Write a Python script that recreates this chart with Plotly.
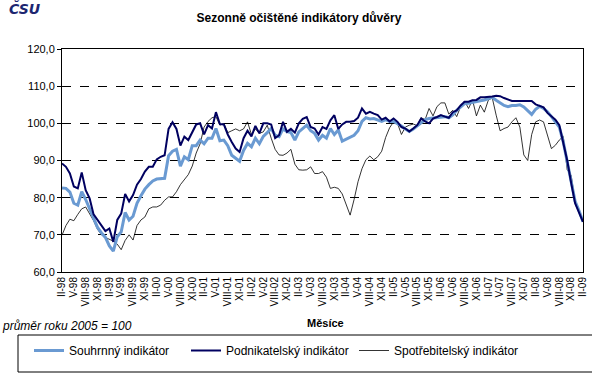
import plotly.graph_objects as go

# Months II-98 .. II-09 (133 monthly categories)
roman = ["I", "II", "III", "IV", "V", "VI", "VII", "VIII", "IX", "X", "XI", "XII"]
months = [f"{roman[(1 + i) % 12]}-{(98 + (1 + i) // 12) % 100:02d}" for i in range(133)]
x_idx = list(range(133))
tick_idx = list(range(0, 133, 3))
tick_text = [months[i] for i in tick_idx]

souhrnny = [
    82.6, 82.5, 81.5, 78.5, 78, 81.6, 79.5, 77, 74.5, 72, 70.5, 69.3, 67, 65.6, 69.5, 70.8, 76, 74, 75, 78.5,
    80.5, 82.3, 83.5, 84.5, 85, 85, 85.2, 91.3, 92.5, 93, 88.5, 91, 90.2, 94,
    94, 95.5, 94.5, 96, 96, 98.6, 95.3, 95.5, 94, 91.4, 90.5, 89.8, 92.7, 94.6, 93.7, 96,
    94.5, 96.5, 97.5, 98.6, 96.8, 96.4, 98.5, 97.8, 97.5, 95.5, 97.7, 98.5, 99.5, 98, 97.3,
    95.5, 96.8, 96, 98.6, 97, 98.2, 95.2, 95.8, 96.3, 96.8, 98, 100.5, 101.5, 101.2, 101.3, 101,
    100.5, 101, 100.5, 100.5, 100, 99.3, 98.5, 97.8, 98.5, 99.3, 100.3, 101, 101.3, 101.4, 101.7, 101.8, 101.8,
    101.5, 102.3, 103.5, 104.5, 105.3, 105.4, 105.7, 105.9, 106.1, 106.3, 106.7, 107, 106.2, 105.6, 104.8,
    104.5, 104.8, 104.8, 105, 104.4, 103.3, 102.4, 103.8, 104.6, 104, 103.1, 101.8, 100.5, 99, 95, 89.5,
    84, 79, 76.5, 73.5,
]

podnikatelsky = [
    89.2, 88.3, 86.5, 83, 82.5, 86.8, 82, 79.8, 75.5, 74, 72.2, 71, 71.7, 68.1, 74, 75.7, 81, 79, 80.7, 83.5,
    85, 87, 88.3, 88.3, 90.3, 91, 91.4, 98.5, 100.3, 98.5, 94, 96.4, 95.5, 97.5,
    99.7, 100, 97, 99.5, 98.6, 103, 99.8, 99.7, 97, 95, 93.2, 92.3, 96, 98, 96.5, 99.3,
    97.3, 100, 100, 99.7, 96, 96.8, 100.4, 97.7, 98.5, 97.5, 100, 101.2, 101.7, 99, 98.6,
    97, 99, 98.5, 100.8, 102.2, 98.5, 99.7, 100.4, 100.4, 100.6, 101.5, 104, 102.6, 103.1, 102.6, 102.2,
    101, 101.5, 100.5, 101.3, 100.4, 99, 98.6, 97.8, 98.6, 99.5, 101.3, 100.5, 100, 101.3, 101.7, 102.2, 101.8,
    101.5, 103, 103.5, 104.8, 105.8, 105.8, 106.2, 106.3, 107, 107, 107, 107.2, 107.4, 107.3, 106.8,
    106.3, 106, 106, 106, 105.8, 106, 106, 105.1, 104.8, 104.3, 102.8, 101.8, 101, 99.5, 95, 90,
    84, 78.5, 76, 73.5,
]

spotrebitelsky = [
    69.9, 72.5, 74.2, 73.8, 75.5, 77, 77.5, 75.8, 73.8, 71.5, 70, 69.3, 68.8, 68.3, 67.5, 66, 68.5, 70, 68.6, 72.5,
    74, 74.8, 77, 77.5, 77.5, 78, 79.3, 80.2, 80.2, 81.6, 83.5, 85, 86.2, 88.5,
    92, 94.5, 99, 100.5, 101.5, 101.8, 99.5, 100, 97.5, 98, 98.5, 98, 98.5, 100.4, 97, 98.5,
    97.3, 97.7, 99.5, 96, 93, 91.5, 91.4, 92, 93, 89, 87.5, 87.4, 87.5, 88.3, 86.5,
    86.5, 87, 85.5, 82.5, 82.8, 82.5, 81, 78, 75.3, 79.5, 84.3, 87.8, 90.2, 91.2, 90.2, 91,
    92.5, 96.2, 98.8, 100.4, 100, 97, 99, 99.5, 99.8, 99.4, 101.5, 101, 104, 102, 104.5, 105.5, 105.5,
    102.5, 103.5, 101.8, 104.5, 106, 104, 106.3, 102, 104.9, 103, 106.2, 106.9, 102.2, 98, 98.6,
    99, 100.4, 101.5, 99, 91.5, 90, 97, 100.4, 100.9, 100.4, 96.8, 93.2, 94.1, 95.5, 96.5, 87.5,
    86, 79, 76.3, 73.5,
]

y_ticks = [60, 70, 80, 90, 100, 110, 120]
y_text = ["60,0", "70,0", "80,0", "90,0", "100,0", "110,0", "120,0"]

FONT = "Liberation Sans, Arial, sans-serif"
PLOT_L, PLOT_W, PLOT_B, PLOT_H = 62, 521, 272, 223


def px_x(px):
    return (px - PLOT_L) / PLOT_W


def px_y(py):
    return (PLOT_B - py) / PLOT_H


fig = go.Figure()
fig.add_trace(go.Scatter(x=x_idx, y=spotrebitelsky, mode="lines", name="Spotřebitelský indikátor",
                         line=dict(color="#000000", width=0.8), legend="legend3"))
fig.add_trace(go.Scatter(x=x_idx, y=souhrnny, mode="lines", name="Souhrnný indikátor",
                         line=dict(color="#6A9AD2", width=3), legend="legend"))
fig.add_trace(go.Scatter(x=x_idx, y=podnikatelsky, mode="lines", name="Podnikatelský indikátor",
                         line=dict(color="#000060", width=2), legend="legend2"))

leg_common = dict(orientation="h", xanchor="left", yanchor="top", y=px_y(336),
                  bgcolor="rgba(0,0,0,0)", borderwidth=0, font=dict(size=12, family=FONT),
                  itemwidth=30)

fig.update_layout(
    width=592, height=374,
    margin=dict(l=62, r=9, t=49, b=102, autoexpand=False),
    paper_bgcolor="white", plot_bgcolor="white",
    font=dict(family=FONT, size=11, color="black"),
    title=dict(text="<b>Sezonně očištěné indikátory důvěry</b>", x=0.505, xanchor="center",
               y=1 - 18 / 374, yanchor="middle", font=dict(size=12, family=FONT)),
    xaxis=dict(range=[0, 132], tickmode="array", tickvals=tick_idx, ticktext=tick_text,
               tickangle=-90, tickfont=dict(size=10), ticks="", showgrid=False, zeroline=False,
               showline=True, linecolor="black", linewidth=1, mirror=True),
    xaxis2=dict(range=[0, 132], overlaying="x", anchor="free", position=40 / 60, side="bottom",
                tickmode="array", tickvals=tick_idx, showticklabels=False, ticks="outside",
                ticklen=3, tickcolor="black", showgrid=False, zeroline=False,
                showline=True, linecolor="black", linewidth=1.3),
    yaxis=dict(range=[60, 120], tickmode="array", tickvals=y_ticks, ticktext=y_text,
               ticks="outside", ticklen=4, tickcolor="black", showgrid=True, gridcolor="black",
               griddash="dash", gridwidth=1, zeroline=False, showline=True, linecolor="black",
               linewidth=1, mirror=True, tickfont=dict(size=11)),
    showlegend=True,
    legend=dict(x=px_x(29), **leg_common),
    legend2=dict(x=px_x(186), **leg_common),
    legend3=dict(x=px_x(354), **leg_common),
    shapes=[dict(type="rect", xref="paper", yref="paper",
                 x0=px_x(18), x1=px_x(600), y0=px_y(372), y1=px_y(335),
                 line=dict(color="black", width=1), fillcolor="rgba(0,0,0,0)")],
    annotations=[
        dict(text="<b>Měsíce</b>", xref="paper", yref="paper", x=px_x(325), y=px_y(323),
             showarrow=False, font=dict(size=11, family=FONT), xanchor="center", yanchor="middle"),
        dict(text="<i>průměr roku 2005 = 100</i>", xref="paper", yref="paper", x=px_x(0),
             y=px_y(326), showarrow=False, font=dict(size=12, family=FONT),
             xanchor="left", yanchor="middle"),
        dict(text="<b><i>ČSU</i></b>", xref="paper", yref="paper", x=px_x(7), y=px_y(9),
             showarrow=False, font=dict(size=14, family="DejaVu Sans, sans-serif", color="#1c2670"),
             xanchor="left", yanchor="middle"),
    ],
)

fig.write_html("out.html", config={"displayModeBar": False},
               post_script="document.body.style.margin='0';document.body.style.overflow='hidden';")
